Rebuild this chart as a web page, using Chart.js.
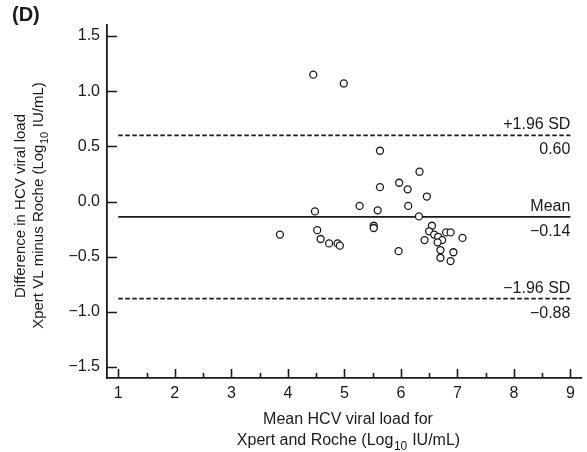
<!DOCTYPE html>
<html>
<head>
<meta charset="utf-8">
<script src="https://cdn.jsdelivr.net/npm/chart.js@4.4.1/dist/chart.umd.min.js"></script>
<style>
  html, body { margin: 0; padding: 0; background: #fff; }
  canvas { display: block; }
</style>
</head>
<body>
<canvas id="blandAltman" width="587" height="452"></canvas>
<script>
// mean of the two assays (x) and their difference (y), log10 IU/mL
const meanLoad = [4.45, 4.99, 5.63, 6.33, 5.63, 5.97, 6.12, 6.46, 5.27, 5.59, 6.13, 4.48, 6.32,
  3.86, 4.52, 4.58, 4.73, 4.88, 4.92, 5.52, 5.52, 5.96, 6.55, 6.50, 6.59, 6.42, 6.66, 6.73,
  6.65, 6.80, 6.88, 7.09, 6.70, 6.93, 6.70, 6.88];
const diffLoad = [1.15, 1.07, 0.46, 0.27, 0.13, 0.17, 0.11, 0.045, -0.04, -0.08, -0.04, -0.09, -0.135,
  -0.30, -0.26, -0.34, -0.38, -0.38, -0.40, -0.22, -0.24, -0.45, -0.22, -0.27, -0.30, -0.35, -0.32, -0.35,
  -0.37, -0.28, -0.28, -0.33, -0.44, -0.46, -0.51, -0.54];

const limitValues = [0.60, -0.14, -0.88];
const limitNames = ["+1.96 SD", "Mean", "\u22121.96 SD"];
const limitLabels = ["0.60", "\u22120.14", "\u22120.88"];
const limitSpan = [1, 9];

const xTicks = [1, 2, 3, 4, 5, 6, 7, 8, 9];
const xMinorTicks = [1.5, 2.5, 3.5, 4.5, 5.5, 6.5, 7.5, 8.5];
const yTicks = [-1.5, -1.0, -0.5, 0.0, 0.5, 1.0, 1.5];

const FONT = "'Liberation Sans', Arial, Helvetica, sans-serif";
const INK = "#1a1a1a";

const points = meanLoad.map((x, i) => ({ x, y: diffLoad[i] }));

const limitSets = limitValues.map((v, i) => ({
  type: "line",
  data: limitSpan.map((x) => ({ x, y: v })),
  borderColor: INK,
  borderWidth: 1.8,
  borderDash: i === 1 ? [] : [4.5, 2.5],
  pointRadius: 0,
  order: 2
}));

function fmtTick(v) {
  const s = Math.abs(v).toFixed(1);
  return v < 0 ? "\u2212" + s : s;
}

// draws "pre" + subscript + "post" centred on (0,0) of the current transform
function subText(ctx, pre, sub, post, size) {
  const subSize = size - 4;
  ctx.font = size + "px " + FONT;
  const w1 = ctx.measureText(pre).width;
  const w3 = ctx.measureText(post).width;
  ctx.font = subSize + "px " + FONT;
  const w2 = ctx.measureText(sub).width;
  let x = -(w1 + w2 + w3) / 2;
  ctx.textAlign = "left";
  ctx.textBaseline = "alphabetic";
  ctx.font = size + "px " + FONT;
  ctx.fillText(pre, x, 0);
  x += w1 + 0.5;
  ctx.font = subSize + "px " + FONT;
  ctx.fillText(sub, x, 5);
  x += w2 + 0.5;
  ctx.font = size + "px " + FONT;
  ctx.fillText(post, x, 0);
}

const decorations = {
  id: "decorations",
  afterDraw(chart) {
    const { ctx, chartArea, scales } = chart;
    const xs = scales.x, ys = scales.y;
    ctx.save();
    ctx.strokeStyle = INK;
    ctx.fillStyle = INK;
    ctx.lineWidth = 1.6;

    // inward ticks
    ctx.beginPath();
    yTicks.forEach((v) => {
      const py = Math.round(ys.getPixelForValue(v)) + 0.5;
      ctx.moveTo(chartArea.left, py);
      ctx.lineTo(chartArea.left + 10, py);
    });
    xTicks.forEach((v) => {
      const px = Math.round(xs.getPixelForValue(v)) + 0.5;
      ctx.moveTo(px, chartArea.bottom);
      ctx.lineTo(px, chartArea.bottom - 9);
    });
    xMinorTicks.forEach((v) => {
      const px = Math.round(xs.getPixelForValue(v)) + 0.5;
      ctx.moveTo(px, chartArea.bottom);
      ctx.lineTo(px, chartArea.bottom - 5);
    });
    ctx.stroke();

    // limit labels
    ctx.font = "16px " + FONT;
    ctx.textAlign = "right";
    ctx.textBaseline = "alphabetic";
    const lx = xs.getPixelForValue(9);
    limitValues.forEach((v, i) => {
      const py = ys.getPixelForValue(v);
      ctx.fillText(limitNames[i], lx, py - 6);
      ctx.fillText(limitLabels[i], lx, py + 19);
    });

    // panel letter
    ctx.font = "bold 20px " + FONT;
    ctx.textAlign = "left";
    ctx.fillText("(D)", 12, 21);

    // x title
    const cx = 348;
    ctx.font = "16px " + FONT;
    ctx.textAlign = "center";
    ctx.fillText("Mean HCV viral load for", cx, 424);
    ctx.save();
    ctx.translate(cx, 445);
    subText(ctx, "Xpert and Roche (Log", "10", " IU/mL)", 16);
    ctx.restore();

    // y title
    const cy = 206;
    ctx.save();
    ctx.translate(25, cy);
    ctx.rotate(-Math.PI / 2);
    ctx.font = "15px " + FONT;
    ctx.textAlign = "center";
    ctx.textBaseline = "alphabetic";
    ctx.fillText("Difference in HCV viral load", 0, 0);
    ctx.restore();
    ctx.save();
    ctx.translate(43, cy);
    ctx.rotate(-Math.PI / 2);
    subText(ctx, "Xpert VL minus Roche (Log", "10", " IU/mL)", 15);
    ctx.restore();

    ctx.restore();
  }
};

new Chart(document.getElementById("blandAltman"), {
  type: "scatter",
  data: {
    datasets: [
      {
        data: points,
        pointRadius: 3.5,
        pointBorderWidth: 1.3,
        borderColor: INK,
        backgroundColor: "#fff",
        order: 1
      },
      ...limitSets
    ]
  },
  options: {
    responsive: false,
    animation: false,
    events: [],
    layout: { padding: { top: 25, right: 3, left: 0, bottom: 0 } },
    plugins: { legend: { display: false }, tooltip: { enabled: false } },
    scales: {
      x: {
        type: "linear",
        min: 0.8,
        max: 9.2,
        afterBuildTicks: (s) => { s.ticks = xTicks.map((value) => ({ value })); },
        afterFit: (s) => { s.height = 74; },
        grid: { display: false, drawTicks: false },
        border: { display: true, color: INK, width: 1.8 },
        ticks: { padding: 6, color: INK, font: { size: 16, family: FONT }, maxRotation: 0 }
      },
      y: {
        type: "linear",
        min: -1.6,
        max: 1.6,
        afterBuildTicks: (s) => { s.ticks = yTicks.map((value) => ({ value })); },
        afterFit: (s) => { s.width = 107; },
        grid: { display: false, drawTicks: false },
        border: { display: true, color: INK, width: 1.8 },
        ticks: { padding: 7, color: INK, font: { size: 16, family: FONT }, callback: fmtTick }
      }
    }
  },
  plugins: [decorations]
});
</script>
</body>
</html>
